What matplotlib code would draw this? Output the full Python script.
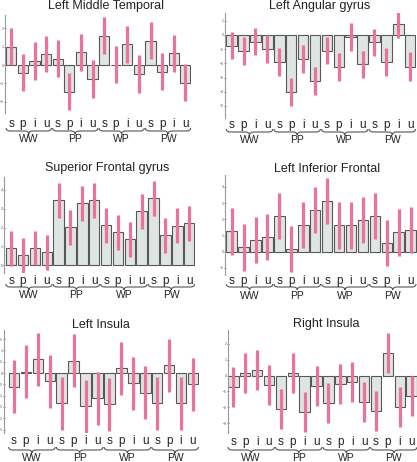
import matplotlib
matplotlib.use("Agg")
import matplotlib.pyplot as plt
import numpy as np
from matplotlib.path import Path
from matplotlib.patches import PathPatch
from matplotlib import transforms

plt.rcParams['font.family'] = ['Liberation Sans', 'DejaVu Sans']

# --- data ---
conditions = ['s', 'p', 'i', 'u']
groups = ['WW', 'PP', 'WP', 'PW']

titles = ['Left Middle Temporal', 'Left Angular gyrus',
          'Superior Frontal gyrus', 'Left Inferior Frontal',
          'Left Insula', 'Right Insula']

lmt_vals = [1.0, -0.42, 0.22, 0.6, 0.35, -1.45, 0.69, -0.76,
            1.6, 0.02, 1.13, -0.5, 1.33, -0.37, 0.64, -0.96]
lmt_err = [1.0, 1.0, 1.03, 1.0, 1.03, 1.0, 1.01, 1.02,
           1.0, 1.02, 1.02, 1.03, 1.02, 1.0, 1.0, 1.0]

lag_vals = [-0.75, -1.1, -0.47, -1.0, -1.88, -4.04, -1.71, -3.22,
            -1.1, -2.28, -0.16, -2.07, -0.52, -1.92, 0.77, -2.23]
lag_err = [0.97, 0.98, 0.97, 1.0, 0.98, 0.98, 0.97, 0.98,
           0.96, 0.98, 0.97, 0.97, 0.97, 0.98, 0.97, 1.0]

sfg_vals = [0.9, 0.53, 0.92, 0.69, 3.45, 2.02, 3.29, 3.45,
            2.12, 1.75, 1.38, 2.87, 3.56, 1.59, 2.09, 2.23]
sfg_err = [0.93, 0.94, 0.92, 0.93, 0.93, 0.93, 0.93, 0.93,
           0.94, 0.93, 0.94, 0.93, 0.93, 0.92, 0.93, 0.92]

lif_vals = [1.25, 0.27, 0.71, 0.9, 2.19, 0.18, 1.63, 2.56,
            3.13, 1.62, 1.62, 1.98, 2.19, 0.52, 1.19, 1.32]
lif_err = [1.44, 1.45, 1.42, 1.43, 1.42, 1.42, 1.43, 1.43,
           1.44, 1.43, 1.43, 1.42, 1.42, 1.43, 1.43, 1.43]

lin_vals = [-0.6, 0.06, 0.6, -0.37, -1.34, 0.54, -1.46, -1.12,
            -1.38, 0.2, -0.46, -0.87, -1.34, 0.34, -1.34, -0.5]
lin_err = [1.18, 1.17, 1.18, 1.17, 1.17, 1.17, 1.17, 1.16,
           1.18, 1.16, 1.17, 1.17, 1.17, 1.18, 1.17, 1.18]

rin_vals = [-0.73, 0.15, 0.33, -0.58, -2.1, 0.15, -2.31, -0.65,
            -1.73, -0.54, -0.42, -1.67, -2.25, 1.4, -1.98, -1.27]
rin_err = [1.25, 1.25, 1.25, 1.25, 1.24, 1.25, 1.25, 1.25,
           1.25, 1.25, 1.25, 1.25, 1.25, 1.25, 1.24, 1.25]

all_vals = [lmt_vals, lag_vals, sfg_vals, lif_vals, lin_vals, rin_vals]
all_errs = [lmt_err, lag_err, sfg_err, lif_err, lin_err, rin_err]

ticks = [[-2, -1, 0, 1, 2],
         [-5, -4, -3, -2, -1, 0, 1],
         [0, 1, 2, 3, 4],
         [-1, 0, 1, 2, 3, 4],
         [-2.5, -2, -1.5, -1, -0.5, 0, 0.5, 1, 1.5],
         [-3, -2, -1, 0, 1, 2]]
tick_labels = [None, None, None, None,
               ['-2.5', '-2', '-1.5', '-1', '-.5', '0', '.5', '1', '1.5'],
               None]

# --- layout in pixels (image coords, y from top) ---
W, H = 417, 462
# spine_x, top, bottom, spacing, left_pad, ylim, title(x,y), letter_base, brace(top,mid,tip), group_base
layout = [
    (5, 15, 113, 11.6, 0.55, (-2.62, 2.73), (106, 6), 127, (128, 131, 134), 142),
    (225, 13, 118, 11.9, 0.56, (-5.85, 1.55), (320, 6), 128, (129, 132, 135), 143),
    (4, 177, 273, 11.87, 0.6, (-0.41, 4.69), (107, 168), 284, (284, 287, 290), 298),
    (225, 175, 275, 11.93, 0.56, (-1.44, 4.74), (327, 169), 284, (284, 287, 290), 299),
    (4, 330, 433, 11.93, 0.84, (-2.65, 1.9), (101, 325), 444, (447, 450, 453), 461),
    (228, 330, 433, 11.89, 0.45, (-3.6, 2.85), (326, 324), 445, (447, 450, 453), 461),
]

pink = '#e9739d'
fill = '#dfe5e3'
edge = '#585858'

fig = plt.figure(figsize=(W / 100, H / 100), dpi=100)
x = np.arange(16)


def fy(py):
    return 1 - py / H


for k in range(6):
    sx, top, bot, sp, pad, ylim, tpos, lbase, brace, gbase = layout[k]
    width = sp * (15.5 + pad)
    ax = fig.add_axes([sx / W, fy(bot), width / W, (bot - top) / H])
    ax.bar(x, all_vals[k], width=0.88, color=fill, edgecolor=edge, linewidth=0.8, zorder=2)
    ax.errorbar(x, all_vals[k], yerr=all_errs[k], fmt='none', ecolor=pink,
                elinewidth=2.3, capsize=0, zorder=3)
    ax.set_xlim(-pad, 15.5)
    ax.set_ylim(*ylim)
    for s in ['top', 'right', 'bottom']:
        ax.spines[s].set_visible(False)
    ax.spines['left'].set_color('#999999')
    ax.spines['left'].set_linewidth(0.8)
    ax.set_yticks(ticks[k])
    if tick_labels[k] is not None:
        ax.set_yticklabels(tick_labels[k])
    ax.tick_params(axis='y', labelsize=2.5, length=1.5, width=0.5, pad=0.3,
                   colors='#555555', direction='inout')
    ax.set_xticks([])

    fig.text(tpos[0] / W, fy(tpos[1]), titles[k], fontsize=9, ha='center',
             va='center', color='#222222')

    tr = transforms.blended_transform_factory(ax.transData, fig.transFigure)
    for i in x:
        ax.text(i, fy(lbase), conditions[i % 4], transform=tr, ha='center',
                va='baseline', fontsize=8.5, color='#222222', clip_on=False)
    y_end, y_mid, y_tip = fy(brace[0]), fy(brace[1]), fy(brace[2])
    for g in range(4):
        x0, x1 = 4 * g - 0.45, 4 * g + 3.45
        xc = (x0 + x1) / 2
        q = 0.35
        verts = [(x0, y_end), (x0, y_mid), (x0 + q, y_mid),
                 (xc - q, y_mid), (xc, y_mid), (xc, y_tip),
                 (xc, y_mid), (xc + q, y_mid),
                 (x1 - q, y_mid), (x1, y_mid), (x1, y_end)]
        codes = [Path.MOVETO, Path.CURVE3, Path.CURVE3,
                 Path.LINETO, Path.CURVE3, Path.CURVE3,
                 Path.CURVE3, Path.CURVE3,
                 Path.LINETO, Path.CURVE3, Path.CURVE3]
        ax.add_patch(PathPatch(Path(verts, codes), transform=tr, fill=False,
                               edgecolor='#555555', linewidth=0.8, clip_on=False))
        ax.text(xc, fy(gbase), groups[g], transform=tr, ha='center', va='baseline',
                fontsize=7.5, color='#222222', clip_on=False)

fig.savefig('out.png', dpi=100, facecolor='white')
